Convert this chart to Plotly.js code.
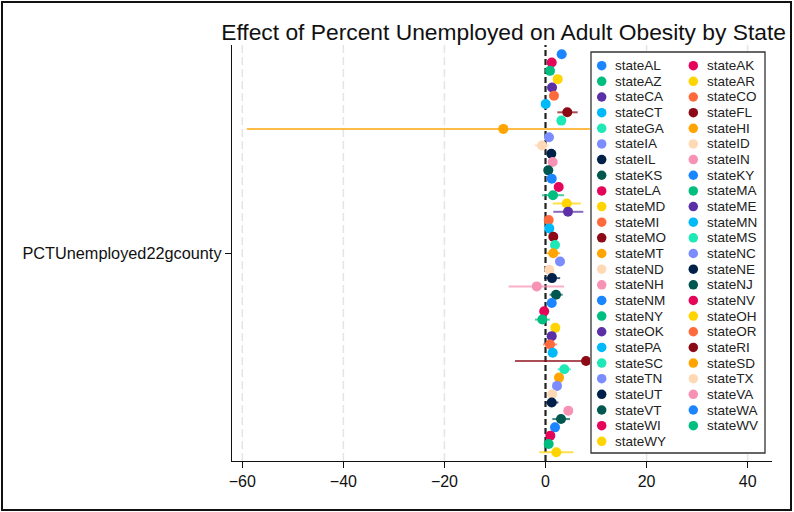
<!DOCTYPE html>
<html>
<head>
<meta charset="utf-8">
<script src="https://cdn.plot.ly/plotly-3.0.1.min.js"></script>
<style>
  html, body { margin: 0; padding: 0; background: #fff; }
  #chart { width: 794px; height: 512px; }
</style>
</head>
<body>
<div id="chart"></div>
<script>
// State coefficients on PCTUnemployed22gcounty with 95% confidence bounds
const states = ['stateAL','stateAK','stateAZ','stateAR','stateCA','stateCO','stateCT','stateFL','stateGA','stateHI',
  'stateIA','stateID','stateIL','stateIN','stateKS','stateKY','stateLA','stateMA','stateMD','stateME',
  'stateMI','stateMN','stateMO','stateMS','stateMT','stateNC','stateND','stateNE','stateNH','stateNJ',
  'stateNM','stateNV','stateNY','stateOH','stateOK','stateOR','statePA','stateRI','stateSC','stateSD',
  'stateTN','stateTX','stateUT','stateVA','stateVT','stateWA','stateWI','stateWV','stateWY'];

const estimate = [3.20, 1.23, 0.89, 2.41, 1.29, 1.68, 0.04, 4.31, 3.13, -8.35,
  0.69, -0.69, 1.15, 1.42, 0.55, 1.23, 2.61, 1.48, 4.20, 4.45,
  0.63, 0.75, 1.54, 1.88, 1.54, 2.87, 0.75, 1.29, -1.74, 2.08,
  1.23, -0.26, -0.63, 1.94, 1.23, 0.89, 1.42, 8.02, 3.72, 2.67,
  2.28, 1.35, 1.23, 4.51, 3.07, 1.88, 0.95, 0.63, 2.14];

const ciLow = [2.40, 0.45, 0.10, 1.60, 0.50, 0.90, -0.75, 2.34, 2.30, -59.10,
  -0.10, -2.10, 0.35, 0.60, -0.25, 0.45, 1.80, -0.69, 1.42, 1.54,
  -0.15, -0.05, 0.75, 1.10, 0.20, 2.05, -0.05, -0.30, -7.28, 0.80,
  0.45, -1.05, -2.10, 1.15, 0.45, -0.50, 0.60, -6.04, 2.40, 1.85,
  1.50, 0.55, -0.10, 3.70, 1.35, 1.10, 0.15, -0.15, -1.23];

const ciHigh = [4.00, 2.00, 1.70, 3.20, 2.10, 2.50, 0.85, 6.37, 3.95, 42.40,
  1.50, 0.70, 1.95, 2.20, 1.35, 2.00, 3.40, 3.66, 6.97, 7.48,
  1.40, 1.55, 2.35, 2.70, 2.90, 3.70, 1.55, 2.90, 3.66, 3.40,
  2.00, 0.55, 0.85, 2.75, 2.00, 2.30, 2.20, 22.08, 5.00, 3.50,
  3.10, 2.15, 2.55, 5.30, 4.85, 2.70, 1.75, 1.40, 5.50];

const xTicks = [-60, -40, -20, 0, 20, 40];
const coefLabel = 'PCTUnemployed22gcounty';

// Stata-style 15 colour cycle
const palette = ['#1a85ff','#e4055b','#00bd80','#ffd400','#5b30a6','#ff6a3d','#00b9f8','#8c0a16',
  '#1ee8b6','#ffa400','#7b8cff','#ffd8b6','#00204a','#f892b4','#00574f'];

function rgba(hex, a) {
  const n = parseInt(hex.slice(1), 16);
  return 'rgba(' + (n >> 16 & 255) + ',' + (n >> 8 & 255) + ',' + (n & 255) + ',' + a + ')';
}

const n = states.length;
const traces = [];

// Coefficient markers with horizontal CI bars, one trace per state
states.forEach((s, i) => {
  const c = palette[i % palette.length];
  traces.push({
    type: 'scatter', mode: 'markers', name: s,
    x: [estimate[i]], y: [i],
    xaxis: 'x', yaxis: 'y',
    marker: { color: c, size: 10, line: { width: 0 } },
    error_x: {
      type: 'data', symmetric: false,
      array: [ciHigh[i] - estimate[i]],
      arrayminus: [estimate[i] - ciLow[i]],
      color: rgba(c, 0.72), thickness: 2, width: 0
    },
    showlegend: false, hoverinfo: 'x+name'
  });
});

// Two-column key drawn on its own small subplot (units = pixels)
const keyW = 174, keyH = 401;
const keyRowStep = 15.65, keyRow0 = 13.7;
const keyColX = [10.7, 102.3];
const keyTextDX = 12.6;
const perRow = 2;

traces.push({
  type: 'scatter', mode: 'lines', x: [0, keyW, keyW, 0, 0], y: [0, 0, keyH, keyH, 0],
  xaxis: 'x2', yaxis: 'y2', fill: 'toself', fillcolor: '#ffffff',
  line: { width: 0, color: '#ffffff' }, hoverinfo: 'skip', showlegend: false
});

const keyX = states.map((_, i) => keyColX[i % perRow]);
const keyY = states.map((_, i) => keyRow0 + Math.floor(i / perRow) * keyRowStep);
traces.push({
  type: 'scatter', mode: 'markers', x: keyX, y: keyY,
  xaxis: 'x2', yaxis: 'y2',
  marker: { color: states.map((_, i) => palette[i % palette.length]), size: 9.5 },
  hoverinfo: 'skip', showlegend: false
});

const keyText = states.map((s, i) => ({
  text: s, x: keyX[i] + keyTextDX, y: keyY[i], xref: 'x2', yref: 'y2',
  xanchor: 'left', yanchor: 'middle', showarrow: false, borderpad: 0,
  font: { family: 'Liberation Sans, Arial, sans-serif', size: 13.5, color: '#222' }
}));

// plot area geometry in pixels
const W = 794, H = 512, L = 232, R = 772, T = 45, B = 461;
const pw = R - L, ph = B - T;
const px = v => (v - L) / pw;
const py = v => (B - v) / ph;

// light dashed grid at the non-zero ticks (zero gets the black reference line)
const gridShapes = xTicks.filter(v => v !== 0).map(v => ({
  type: 'line', xref: 'x', yref: 'paper', x0: v, x1: v, y0: 0, y1: 1,
  line: { color: '#e4e4e4', width: 1.5, dash: '8px,4px' }, layer: 'below'
}));

const layout = {
  width: W, height: H, autosize: false,
  margin: { l: L, r: W - R, t: T, b: H - B, pad: 0 },
  paper_bgcolor: '#ffffff', plot_bgcolor: '#ffffff',
  font: { family: 'Liberation Sans, Arial, sans-serif', color: '#111' },
  title: {
    text: 'Effect of Percent Unemployed on Adult Obesity by State',
    xref: 'container', yref: 'container', x: 786 / W, xanchor: 'right',
    y: 1 - 32 / H, yanchor: 'middle',
    font: { family: 'Liberation Sans, Arial, sans-serif', size: 22.8, color: '#111' }
  },
  xaxis: {
    domain: [0, 1], range: [-62.04, 44.82], anchor: 'y',
    tickvals: xTicks, ticks: 'outside', ticklen: 6, tickwidth: 1.2, tickcolor: '#111',
    showline: true, linecolor: '#111', linewidth: 1.2,
    showgrid: false, zeroline: false, tickfont: { size: 16, color: '#111' }, fixedrange: true
  },
  yaxis: {
    domain: [0, 1], range: [n + 0.06, -1.12], anchor: 'x',
    tickvals: [(n - 1) / 2], ticktext: [coefLabel],
    ticks: 'outside', ticklen: 6, tickwidth: 1.2, tickcolor: '#111',
    showline: true, linecolor: '#111', linewidth: 1.2,
    showgrid: false, zeroline: false, tickfont: { size: 16.3, color: '#111' }, fixedrange: true
  },
  xaxis2: { domain: [px(590), px(766)], range: [-1, keyW + 1], anchor: 'y2', visible: false, fixedrange: true },
  yaxis2: { domain: [py(454), py(51)], range: [keyH + 1, -1], anchor: 'x2', visible: false, fixedrange: true },
  shapes: gridShapes.concat([
    // reference line at zero
    { type: 'line', xref: 'x', yref: 'paper', x0: 0, x1: 0, y0: 0, y1: 1,
      line: { color: '#222', width: 2.2, dash: '6px,3px' }, layer: 'between' },
    // key frame
    { type: 'rect', xref: 'x2', yref: 'y2', x0: 0, x1: keyW, y0: 0, y1: keyH,
      line: { color: '#333', width: 1.3 }, fillcolor: 'rgba(0,0,0,0)', layer: 'above' },
    // outer frame of the graphic
    { type: 'rect', xref: 'paper', yref: 'paper', x0: px(2), x1: px(791), y0: py(510), y1: py(2),
      line: { color: '#111', width: 2 }, fillcolor: 'rgba(0,0,0,0)', layer: 'above' }
  ]),
  annotations: keyText,
  showlegend: false
};

Plotly.newPlot('chart', traces, layout, { displayModeBar: false, staticPlot: true });
</script>
</body>
</html>
